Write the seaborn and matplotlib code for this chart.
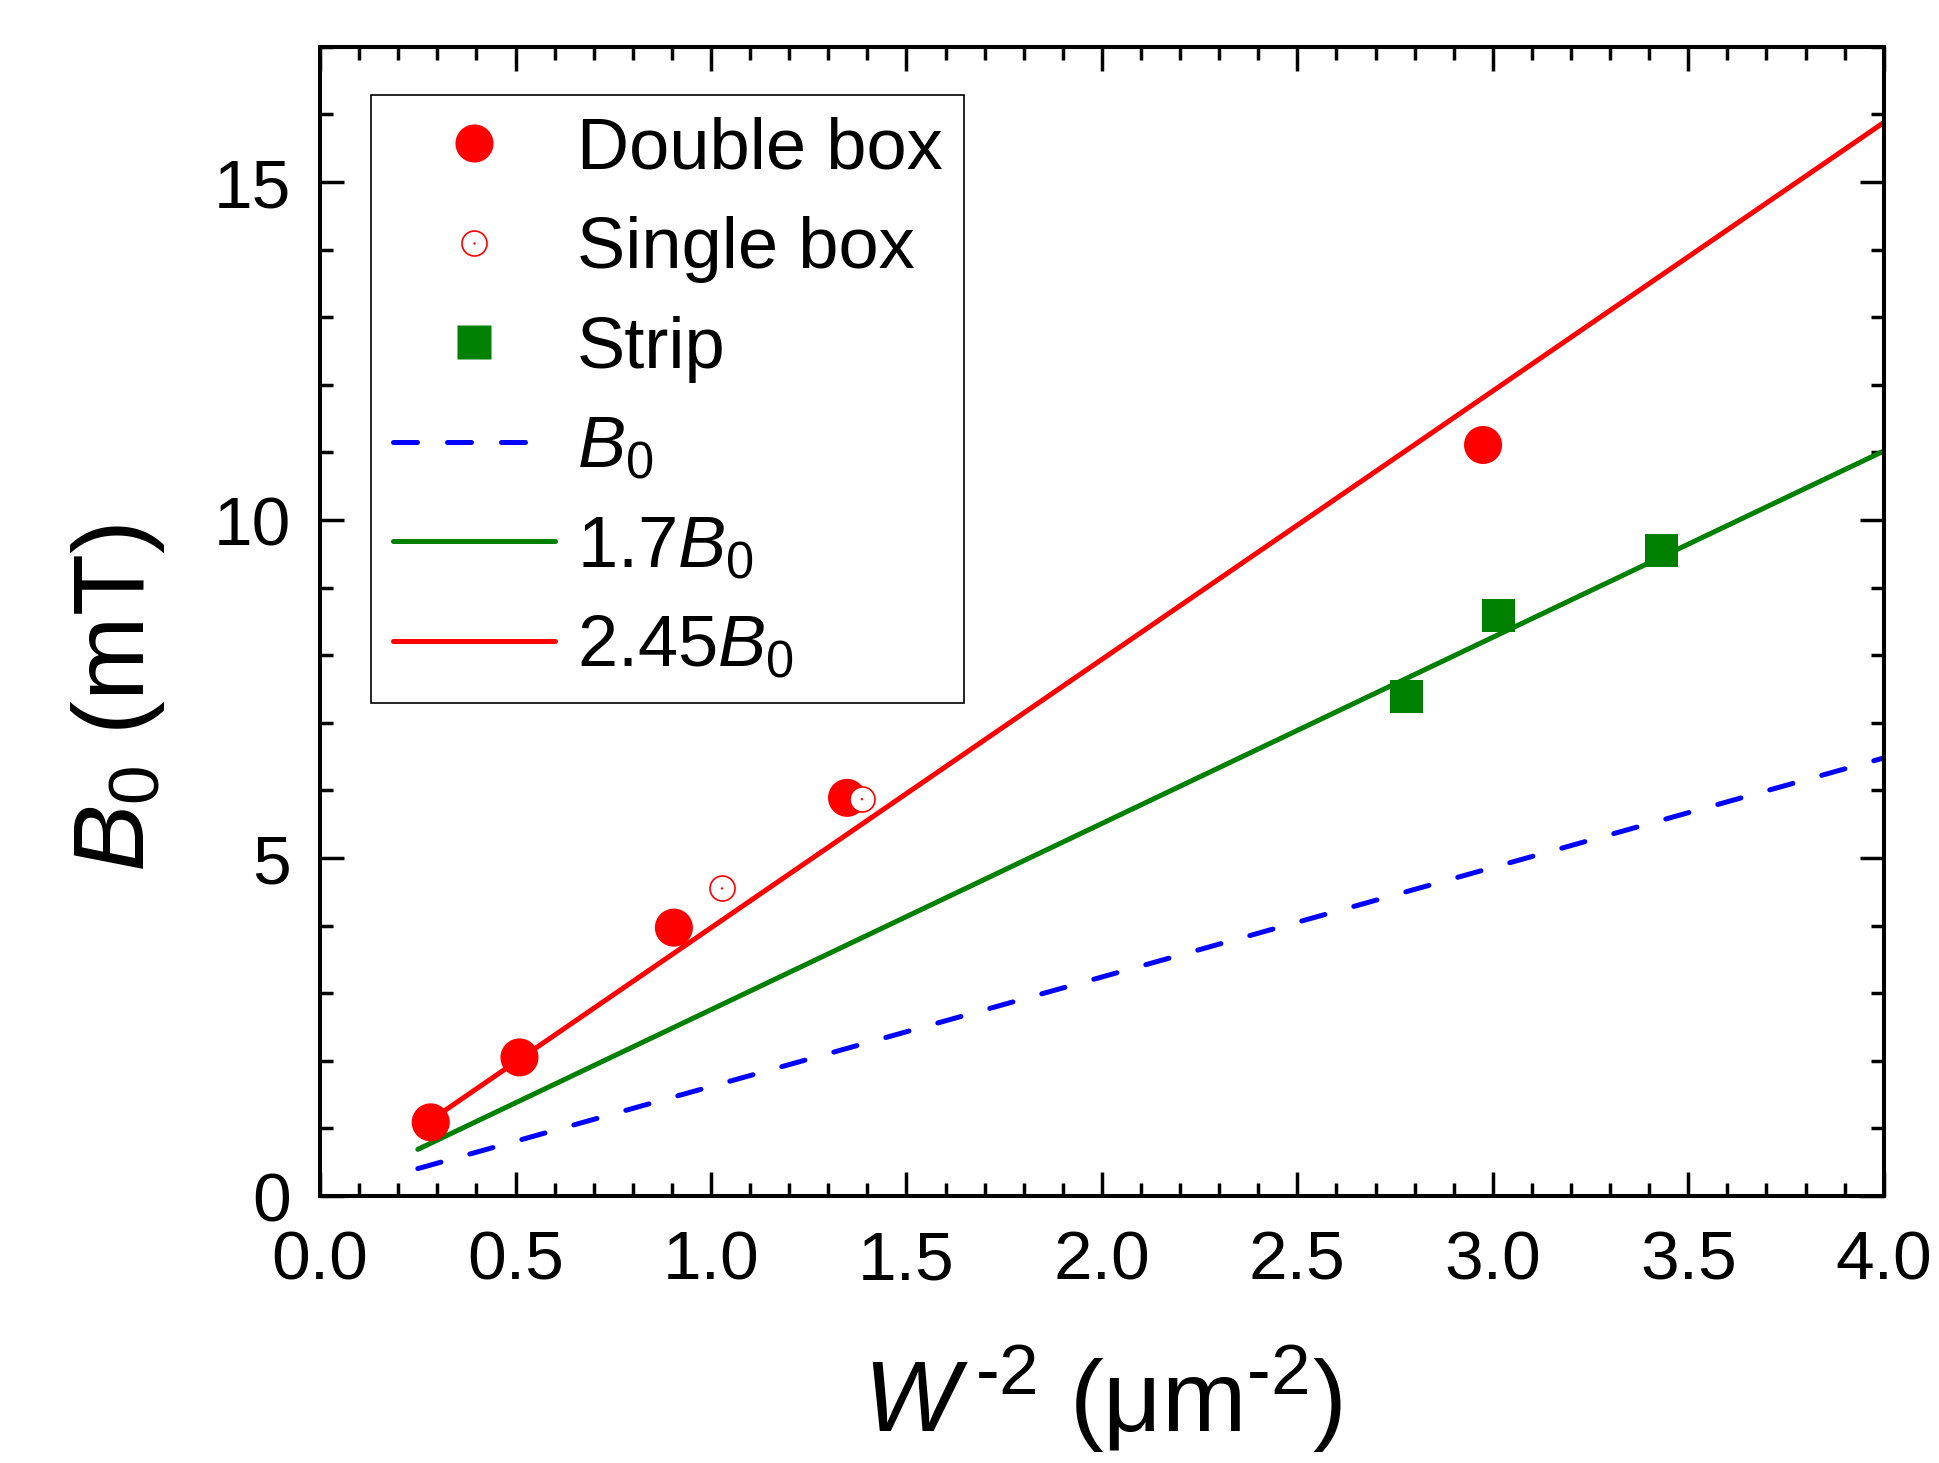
import matplotlib
matplotlib.use("Agg")
import matplotlib.pyplot as plt
import seaborn as sns
from matplotlib.ticker import MultipleLocator, FormatStrFormatter
from matplotlib.lines import Line2D
from matplotlib.legend_handler import HandlerTuple

# ---------------- data ----------------
double_x = [0.283, 0.51, 0.905, 1.348, 2.975]
double_y = [1.09, 2.05, 3.97, 5.89, 11.11]

single_x = [1.028, 1.386]
single_y = [4.55, 5.87]

strip_x = [2.779, 3.015, 3.431]
strip_y = [7.39, 8.585, 9.55]

line_x = [0.25, 4.0]
b0_y = [0.405, 6.48]
b17_y = [0.69, 11.02]
b245_y = [0.99, 15.88]

x_ticks = [0.0, 0.5, 1.0, 1.5, 2.0, 2.5, 3.0, 3.5, 4.0]
y_ticks = [0, 5, 10, 15]

# ---------------- style ----------------
sns.set_theme(style="white")
plt.rcParams["font.family"] = ["Liberation Sans", "DejaVu Sans"]
plt.rcParams["mathtext.fontset"] = "custom"
plt.rcParams["mathtext.rm"] = "Liberation Sans"
plt.rcParams["mathtext.it"] = "Liberation Sans:italic"
plt.rcParams["mathtext.bf"] = "Liberation Sans:bold"
plt.rcParams["text.color"] = "black"
plt.rcParams["axes.labelcolor"] = "black"

fig = plt.figure(figsize=(19.4, 14.63), dpi=100)
ax = fig.add_axes([0.165, 0.1825, 0.806, 0.7855])
ax.set_facecolor("white")

# lines
sns.lineplot(x=line_x, y=b0_y, ax=ax, color="#0000ff", linewidth=3.6, zorder=2)
sns.lineplot(x=line_x, y=b17_y, ax=ax, color="#008000", linewidth=3.6, zorder=2)
sns.lineplot(x=line_x, y=b245_y, ax=ax, color="#ff0000", linewidth=3.6, zorder=2)
lines = ax.get_lines()
lines[0].set_linestyle((0, (4.8, 6.0)))
lines[0].set_dash_capstyle("round")

# points
sns.scatterplot(x=strip_x, y=strip_y, ax=ax, marker="s", s=24**2, color="#008000",
                edgecolor="none", linewidth=0, zorder=3)
sns.scatterplot(x=double_x, y=double_y, ax=ax, marker="o", s=27.4**2, color="#ff0000",
                edgecolor="none", linewidth=0, zorder=3)
sns.scatterplot(x=single_x, y=single_y, ax=ax, marker="o", s=18**2, facecolor="white",
                edgecolor="#ff0000", linewidth=1.2, zorder=4)
sns.scatterplot(x=single_x, y=single_y, ax=ax, marker="o", s=3, color="#ff0000",
                edgecolor="none", linewidth=0, zorder=5)

# axes
ax.set_xlim(0, 4)
ax.set_ylim(0, 17)
ax.set_xticks(x_ticks)
ax.set_yticks(y_ticks)
ax.xaxis.set_major_formatter(FormatStrFormatter("%.1f"))
ax.yaxis.set_major_formatter(FormatStrFormatter("%d"))
ax.xaxis.set_minor_locator(MultipleLocator(0.1))
ax.yaxis.set_minor_locator(MultipleLocator(1))
for sp in ax.spines.values():
    sp.set_visible(True)
    sp.set_color("black")
    sp.set_linewidth(2.9)
ax.tick_params(which="both", direction="in", top=True, right=True, bottom=True, left=True,
               color="black", width=2.5)
ax.tick_params(which="major", length=17)
ax.tick_params(which="minor", length=9.5)
ax.tick_params(axis="x", which="major", labelsize=50, pad=24, labelcolor="black")
ax.tick_params(axis="y", which="major", labelsize=50, pad=21, labelcolor="black")

ax.set_xlabel(r"$W^{\,\text{-}2}$ (μm$^{\text{-}2}$)", fontsize=73)
ax.set_ylabel(r"$B_0$ (mT)", fontsize=73)
ax.xaxis.set_label_coords(0.5, -0.129)
ax.yaxis.set_label_coords(-0.098, 0.433)

# legend
h_double = Line2D([], [], marker="o", ls="none", markersize=27.4, markerfacecolor="#ff0000",
                  markeredgecolor="none")
h_single = (Line2D([], [], marker="o", ls="none", markersize=18, markerfacecolor="white",
                   markeredgecolor="#ff0000", markeredgewidth=1.2),
            Line2D([], [], marker="o", ls="none", markersize=1.7, markerfacecolor="#ff0000",
                   markeredgecolor="none"))
h_strip = Line2D([], [], marker="s", ls="none", markersize=24, markerfacecolor="#008000",
                 markeredgecolor="none")
h_b0 = Line2D([], [], color="#0000ff", lw=3.6, ls=(0, (4.8, 6.0)), dash_capstyle="round")
h_b17 = Line2D([], [], color="#008000", lw=3.6)
h_b245 = Line2D([], [], color="#ff0000", lw=3.6)

leg = ax.legend([h_double, h_single, h_strip, h_b0, h_b17, h_b245],
                ["Double box", "Single box", "Strip", r"$B_0$", r"1.7$B_0$", r"2.45$B_0$"],
                loc="upper left", bbox_to_anchor=(0.0326, 0.958), borderaxespad=0,
                fontsize=52, frameon=True, fancybox=False, framealpha=1,
                edgecolor="black", handlelength=2.25, handletextpad=0.3,
                borderpad=0.3, labelspacing=0.45,
                handler_map={tuple: HandlerTuple(ndivide=1)})
leg.get_frame().set_linewidth(1.2)

fig.savefig("out.png", dpi=100, facecolor="white")
